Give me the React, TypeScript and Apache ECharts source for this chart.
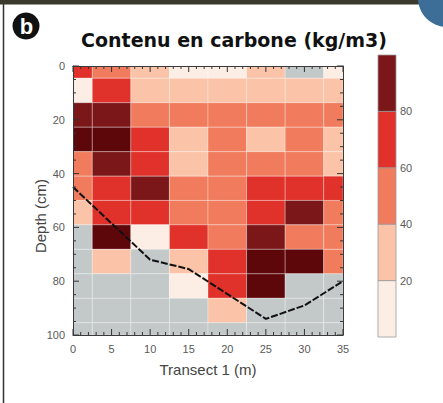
import React, { useEffect, useRef } from "react";
import * as echarts from "echarts";

// ---- data ----
const xPositions = [0, 5, 10, 15, 20, 25, 30, 35]; // Transect 1 (m)
const depths = [0, 9.1, 18.2, 27.3, 36.4, 45.5, 54.5, 63.6, 72.7, 81.8, 90.9, 100]; // Depth (cm)
// carbon content (kg/m3) per depth row, per transect position; null = no data
const row0 = [70, 50, 30, 10, 10, 30, null, 10];
const row1 = [10, 70, 30, 30, 30, 30, 30, 30];
const row2 = [85, 85, 50, 50, 50, 50, 50, 50];
const row3 = [97, 97, 70, 30, 50, 30, 50, 30];
const row4 = [50, 85, 70, 30, 50, 50, 50, 30];
const row5 = [50, 70, 85, 50, 50, 70, 70, 70];
const row6 = [30, 70, 70, 50, 50, 70, 85, 50];
const row7 = [null, 97, 10, 70, 50, 85, 50, 50];
const row8 = [null, 30, null, 30, 70, 97, 97, 50];
const row9 = [null, null, null, 10, 70, 97, null, null];
const row10 = [null, null, null, null, 30, null, null, null];
const row11 = [null, null, null, null, null, null, null, null];
const rows = [row0, row1, row2, row3, row4, row5, row6, row7, row8, row9, row10, row11];

// dashed boundary line (x m, depth cm)
const lineX = [0, 10, 15, 25, 30, 35];
const lineDepth = [45, 72, 75.5, 94, 89, 80];

// colour scale
const levelEdges = [0, 20, 40, 60, 80, 100];
const levelColors = ["#fdeee5", "#fbc3a8", "#f07c5d", "#e0312a", "#7b1719"];
const darkestColor = "#5e070b";
const noDataColor = "#c3c8c8";
const colorbarTicks = [20, 40, 60, 80];

// axis tick positions (major + minor)
const xTickVals = [0, 1, 2, 3, 4, 5, 6, 7, 8, 9, 10, 11, 12, 13, 14, 15, 16, 17, 18, 19, 20, 21, 22, 23, 24, 25, 26, 27, 28, 29, 30, 31, 32, 33, 34, 35];
const yTickVals = [0, 5, 10, 15, 20, 25, 30, 35, 40, 45, 50, 55, 60, 65, 70, 75, 80, 85, 90, 95, 100];
const xMajorStep = 5;
const yMajorStep = 20;

const cellW = 5;
const cellH = 100 / 11;

function colorFor(v: number | null): string {
  if (v === null || v === undefined) return noDataColor;
  if (v >= 95) return darkestColor;
  for (let i = levelEdges.length - 2; i >= 0; i--) {
    if (v >= levelEdges[i]) return levelColors[i];
  }
  return levelColors[0];
}

export default function App() {
  const ref = useRef<HTMLDivElement>(null);
  useEffect(() => {
    if (!ref.current) return;
    const chart = echarts.init(ref.current, null, { renderer: "svg" });

    const cells: { x: number; d: number; v: number | null }[] = [];
    rows.forEach((r, ri) => {
      r.forEach((v, ci) => {
        cells.push({ x: xPositions[ci], d: depths[ri], v });
      });
    });

    const xTickItems = xTickVals.map((v) => [v, 50]);
    const yTickItems = yTickVals.map((v) => [17.5, v]);

    const colorbarData = levelColors.map((c, i) => [0.5, levelEdges[i], levelEdges[i + 1]]);

    const axisColor = "#3a3a3a";
    const labelColor = "#5a5a5a";
    const sans = "Liberation Sans, Arial, sans-serif";

    const mkTickStyle = () => ({ stroke: "#333333", lineWidth: 1 });

    const option: any = {
      animation: false,
      backgroundColor: "#ffffff",
      grid: [
        { left: 73, top: 66, width: 270, height: 269, outerBoundsMode: "none" },
        { left: 378, top: 55, width: 18, height: 282, outerBoundsMode: "none" },
      ],
      xAxis: [
        {
          gridIndex: 0,
          type: "value",
          min: 0,
          max: 35,
          interval: 5,
          position: "bottom",
          axisLine: { onZero: false, lineStyle: { color: axisColor, width: 1 } },
          axisTick: { show: false },
          minorTick: { show: false },
          axisLabel: { color: labelColor, fontSize: 11, fontFamily: sans, margin: 8 },
          splitLine: { show: false },
          name: "Transect 1 (m)",
          nameLocation: "middle",
          nameGap: 27,
          nameTextStyle: { color: "#444", fontSize: 15, fontFamily: sans },
          z: 10,
        },
        {
          gridIndex: 0,
          type: "value",
          min: 0,
          max: 35,
          interval: 5,
          position: "top",
          axisLine: { onZero: false, lineStyle: { color: axisColor, width: 1 } },
          axisTick: { show: false },
          minorTick: { show: false },
          axisLabel: { show: false },
          splitLine: { show: false },
          z: 10,
        },
        {
          gridIndex: 1,
          type: "value",
          min: 0,
          max: 1,
          show: false,
        },
      ],
      yAxis: [
        {
          gridIndex: 0,
          type: "value",
          inverse: true,
          min: 0,
          max: 100,
          interval: 20,
          position: "left",
          axisLine: { onZero: false, lineStyle: { color: axisColor, width: 1 } },
          axisTick: { show: false },
          minorTick: { show: false },
          axisLabel: { color: labelColor, fontSize: 11, fontFamily: sans, margin: 8 },
          splitLine: { show: false },
          z: 10,
        },
        {
          gridIndex: 0,
          type: "value",
          inverse: true,
          min: 0,
          max: 100,
          interval: 20,
          position: "right",
          axisLine: { onZero: false, lineStyle: { color: axisColor, width: 1 } },
          axisTick: { show: false },
          minorTick: { show: false },
          axisLabel: { show: false },
          splitLine: { show: false },
          z: 10,
        },
        {
          gridIndex: 1,
          type: "value",
          min: 0,
          max: 100,
          interval: 20,
          position: "right",
          axisLine: { show: false },
          axisTick: { show: false },
          splitLine: { show: false },
          axisLabel: {
            color: labelColor,
            fontSize: 11,
            fontFamily: sans,
            margin: 4,
            showMinLabel: false,
            showMaxLabel: false,
            formatter: (v: number) => (colorbarTicks.indexOf(v) >= 0 ? String(v) : ""),
          },
        },
      ],
      series: [
        {
          type: "custom",
          xAxisIndex: 0,
          yAxisIndex: 0,
          data: cells.map((c) => [c.x, c.d, c.v === null ? "-" : c.v]),
          renderItem: (params: any, api: any) => {
            const cell = cells[params.dataIndex];
            const p1 = api.coord([cell.x - cellW / 2, cell.d - cellH / 2]);
            const p2 = api.coord([cell.x + cellW / 2, cell.d + cellH / 2]);
            const cs = params.coordSys;
            const shape = echarts.graphic.clipRectByRect(
              {
                x: Math.min(p1[0], p2[0]),
                y: Math.min(p1[1], p2[1]),
                width: Math.abs(p2[0] - p1[0]),
                height: Math.abs(p2[1] - p1[1]),
              },
              { x: cs.x, y: cs.y, width: cs.width, height: cs.height }
            );
            if (!shape) return null;
            return {
              type: "rect",
              shape,
              style: {
                fill: colorFor(cell.v),
                stroke: "rgba(255,255,255,0.3)",
                lineWidth: 1,
              },
            };
          },
          z: 1,
        },
        {
          type: "line",
          xAxisIndex: 0,
          yAxisIndex: 0,
          data: lineX.map((x, i) => [x, lineDepth[i]]),
          showSymbol: false,
          symbol: "none",
          lineStyle: { color: "#111", width: 2, type: [7, 2] },
          z: 5,
        },
        {
          // inward ticks on bottom and top edges
          type: "custom",
          xAxisIndex: 0,
          yAxisIndex: 0,
          data: xTickItems,
          z: 8,
          renderItem: (params: any, api: any) => {
            const cs = params.coordSys;
            const v = xTickVals[params.dataIndex];
            const len = v % xMajorStep === 0 ? 6 : 3;
            const px = api.coord([v, 50])[0];
            return {
              type: "group",
              children: [
                { type: "line", shape: { x1: px, y1: cs.y + cs.height, x2: px, y2: cs.y + cs.height - len }, style: mkTickStyle() },
                { type: "line", shape: { x1: px, y1: cs.y, x2: px, y2: cs.y + len }, style: mkTickStyle() },
              ],
            };
          },
        },
        {
          // inward ticks on left and right edges
          type: "custom",
          xAxisIndex: 0,
          yAxisIndex: 0,
          data: yTickItems,
          z: 8,
          renderItem: (params: any, api: any) => {
            const cs = params.coordSys;
            const v = yTickVals[params.dataIndex];
            const len = v % yMajorStep === 0 ? 6 : 3;
            const py = api.coord([17.5, v])[1];
            return {
              type: "group",
              children: [
                { type: "line", shape: { x1: cs.x, y1: py, x2: cs.x + len, y2: py }, style: mkTickStyle() },
                { type: "line", shape: { x1: cs.x + cs.width, y1: py, x2: cs.x + cs.width - len, y2: py }, style: mkTickStyle() },
              ],
            };
          },
        },
        {
          type: "custom",
          xAxisIndex: 2,
          yAxisIndex: 2,
          data: colorbarData,
          renderItem: (params: any, api: any) => {
            const cs = params.coordSys;
            const lo = api.coord([0, api.value(1)]);
            const hi = api.coord([0, api.value(2)]);
            return {
              type: "rect",
              shape: { x: cs.x, y: hi[1], width: cs.width, height: lo[1] - hi[1] },
              style: {
                fill: levelColors[params.dataIndex],
                stroke: "#9a9a9a",
                lineWidth: 0.8,
              },
            };
          },
        },
      ],
      graphic: [
        { type: "rect", shape: { x: 0, y: 0, width: 443, height: 4.5 }, style: { fill: "#3a3a2c" } },
        { type: "line", shape: { x1: 3.5, y1: 4, x2: 3.5, y2: 403 }, style: { stroke: "#333", lineWidth: 1.5 } },
        { type: "circle", shape: { cx: 447, cy: -2, r: 29 }, style: { fill: "#3d6e98" } },
        { type: "circle", shape: { cx: 26, cy: 26, r: 13.5 }, style: { fill: "#111" } },
        {
          type: "text",
          x: 26.5,
          y: 26,
          style: {
            text: "b",
            fill: "#fff",
            font: "bold 22px Liberation Sans, Arial, sans-serif",
            textAlign: "center",
            textVerticalAlign: "middle",
          },
        },
        {
          type: "text",
          x: 234,
          y: 40,
          style: {
            text: "Contenu en carbone (kg/m3)",
            fill: "#111",
            font: "bold 19px DejaVu Sans, Verdana, sans-serif",
            textAlign: "center",
            textVerticalAlign: "middle",
          },
        },
        {
          type: "text",
          x: 40,
          y: 216,
          rotation: Math.PI / 2,
          style: {
            text: "Depth (cm)",
            fill: "#444",
            font: "15px Liberation Sans, Arial, sans-serif",
            textAlign: "center",
            textVerticalAlign: "middle",
          },
        },
      ],
    };

    chart.setOption(option);
    return () => chart.dispose();
  }, []);

  return (
    <div
      ref={ref}
      style={{ position: "fixed", left: 0, top: 0, width: 443, height: 403, background: "#fff" }}
    />
  );
}
